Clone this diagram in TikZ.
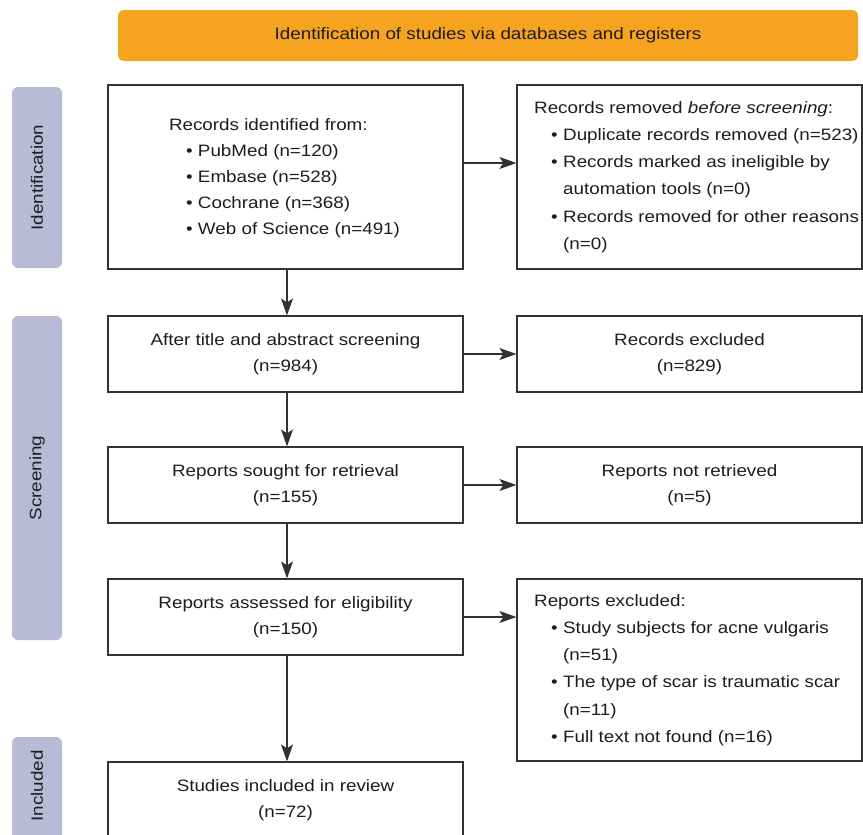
\documentclass[tikz,border=0pt]{standalone}
\usepackage{fontspec}
\setmainfont{Liberation Sans}[FakeStretch=1.14]
\usetikzlibrary{arrows.meta}
\definecolor{orangeb}{RGB}{246,163,31}
\definecolor{lav}{RGB}{185,187,214}
\definecolor{lnc}{RGB}{50,50,50}
\definecolor{txc}{RGB}{30,28,28}
\newcommand{\myitem}[1]{\hspace*{17pt}\makebox[12pt][l]{•}#1}
\newcommand{\mycont}[1]{\hspace*{29pt}#1}
\begin{document}
\begin{tikzpicture}[x=1pt,y=-1pt,
  every node/.style={text=txc, font=\fontsize{16.5}{26.5}\selectfont},
  box/.style={draw=lnc, line width=1.2pt, fill=white, inner sep=0pt},
  lbox/.style={box, minimum width=355, minimum height=76, align=center},
  rbox/.style={box, minimum width=345, minimum height=76, align=center},
  listtxt/.style={align=left, inner sep=0pt, font=\fontsize{16.5}{27.3}\selectfont},
  side/.style={fill=lav, rounded corners=6pt, minimum width=50, inner sep=0pt},
  lbl/.style={rotate=90},
  arr/.style={draw=lnc, line width=1.2pt, -{Stealth[length=17pt,width=12pt,inset=4pt]}}]
\clip (0,0) rectangle (863,835);
\fill[white] (0,0) rectangle (863,835);
% banner
\node[fill=orangeb, rounded corners=6pt, minimum width=740, minimum height=51, inner sep=0pt] (banner) at (488,35.5)
  {Identification of studies via databases and registers};
% side labels
\node[side, minimum height=181] (sid) at (37,177.5) {};
\node[lbl] (sidt) at (sid.center) {Identification};
\node[side, minimum height=324] (sscr) at (37,478) {};
\node[lbl] (sscrt) at (sscr.center) {Screening};
\node[side, minimum height=110] (sinc) at (37,792) {};
\node[lbl] (sinct) at (37,786) {Included};
% left column
\node[box, minimum width=355, minimum height=184] (b1) at (285.5,177) {};
\node[listtxt, font=\fontsize{16.5}{26}\selectfont] (b1t) at (284.5,178) {Records identified from:\\
\myitem{PubMed (n=120)}\\
\myitem{Embase (n=528)}\\
\myitem{Cochrane (n=368)}\\
\myitem{Web of Science (n=491)}};
\node[lbox] (b2) at (285.5,354) {After title and abstract screening\\(n=984)};
\node[lbox] (b3) at (285.5,485) {Reports sought for retrieval\\(n=155)};
\node[lbox] (b4) at (285.5,617) {Reports assessed for eligibility\\(n=150)};
\node[lbox] (b5) at (285.5,800) {Studies included in review\\(n=72)};
% right column
\node[box, minimum width=345, minimum height=184] (r1) at (689.5,177) {};
\node[listtxt, anchor=west] (r1t) at (534,177) {Records removed \textit{before screening}:\\
\myitem{Duplicate records removed (n=523)}\\
\myitem{Records marked as ineligible by}\\
\mycont{automation tools (n=0)}\\
\myitem{Records removed for other reasons}\\
\mycont{(n=0)}};
\node[rbox] (r2) at (689.5,354) {Records excluded\\(n=829)};
\node[rbox] (r3) at (689.5,485) {Reports not retrieved\\(n=5)};
\node[box, minimum width=345, minimum height=182] (r4) at (689.5,670) {};
\node[listtxt, anchor=west] (r4t) at (534,670) {Reports excluded:\\
\myitem{Study subjects for acne vulgaris}\\
\mycont{(n=51)}\\
\myitem{The type of scar is traumatic scar}\\
\mycont{(n=11)}\\
\myitem{Full text not found (n=16)}};
% arrows
\coordinate (a1s) at (b1.east |- 0,163);
\coordinate (a1e) at (r1.west |- 0,163);
\draw[arr] (a1s) -- (a1e);
\draw[arr] (b2) -- (r2);
\draw[arr] (b3) -- (r3);
\draw[arr] (b4.east) -- (b4.east -| r4.west);
\draw[arr] (b1.south -| 287,0) -- (b2.north -| 287,0);
\draw[arr] (b2.south -| 287,0) -- (b3.north -| 287,0);
\draw[arr] (b3.south -| 287,0) -- (b4.north -| 287,0);
\draw[arr] (b4.south -| 287,0) -- (b5.north -| 287,0);
\end{tikzpicture}
\end{document}
